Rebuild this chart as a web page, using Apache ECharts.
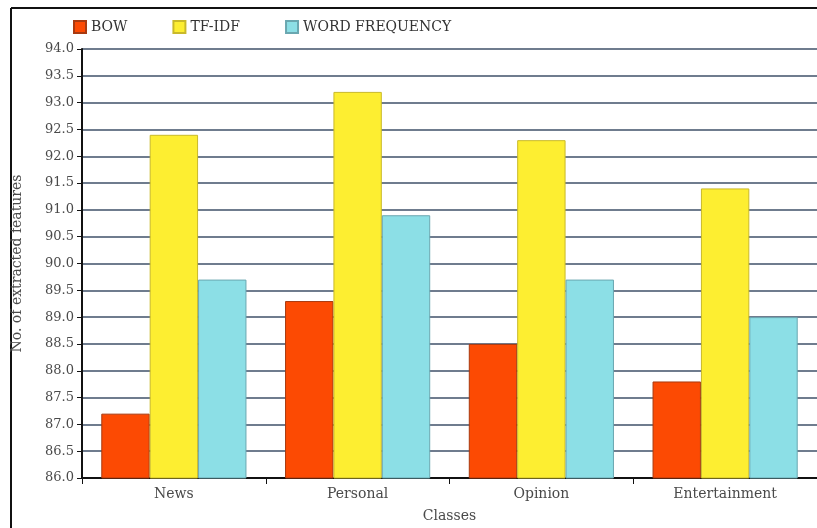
<!DOCTYPE html>
<html>
<head>
<meta charset="utf-8">
<script src="https://cdn.jsdelivr.net/npm/echarts@6/dist/echarts.min.js"></script>
<style>
  html, body { margin: 0; padding: 0; background: #ffffff; }
  #chart { width: 817px; height: 528px; }
</style>
</head>
<body>
<div id="chart"></div>
<script>
const classes = ["News", "Personal", "Opinion", "Entertainment"];
const bow = [87.2, 89.3, 88.5, 87.8];
const tfidf = [92.4, 93.2, 92.3, 91.4];
const wordFrequency = [89.7, 90.9, 89.7, 89.0];

const fontFamily = "DejaVu Serif";
const labelColor = "#4a4a4a";
const gridColor = "#3f5068";

const chart = echarts.init(document.getElementById("chart"), null, { renderer: "canvas" });

function barSeries(name, data, color, border) {
  return {
    name,
    type: "bar",
    data,
    barGap: "0%",
    barCategoryGap: "21%",
    itemStyle: { color, borderColor: border, borderWidth: 1 },
    emphasis: { disabled: true },
  };
}

chart.setOption({
  animation: false,
  backgroundColor: "#ffffff",
  textStyle: { fontFamily, color: labelColor },
  legend: {
    left: 68,
    top: 15,
    icon: "rect",
    itemWidth: 12,
    itemHeight: 12,
    itemGap: 45,
    textStyle: { fontFamily, fontSize: 14, color: "#333333" },
  },
  grid: { left: 82, top: 49, width: 736, height: 432, containLabel: false },
  xAxis: {
    type: "category",
    data: classes,
    name: "Classes",
    nameLocation: "middle",
    nameGap: 31,
    nameTextStyle: { fontFamily, fontSize: 14, color: labelColor },
    axisLine: { lineStyle: { color: "#111111", width: 2 } },
    axisTick: { show: true, alignWithLabel: false, length: 6, lineStyle: { color: "#111111", width: 1 } },
    axisLabel: { fontFamily, fontSize: 14, color: labelColor, margin: 9 },
    splitLine: { show: false },
  },
  yAxis: {
    type: "value",
    min: 86,
    max: 94,
    interval: 0.5,
    name: "No. of extracted features",
    nameLocation: "middle",
    nameGap: 58,
    nameTextStyle: { fontFamily, fontSize: 14, color: labelColor },
    axisLine: { show: true, lineStyle: { color: "#111111", width: 2 } },
    axisTick: { show: true, length: 5, lineStyle: { color: "#111111", width: 1 } },
    axisLabel: { fontFamily, fontSize: 13, color: labelColor, margin: 8, formatter: (v) => v.toFixed(1) },
    splitLine: { lineStyle: { color: gridColor, width: 1.5 } },
  },
  graphic: [
    { type: "line", shape: { x1: 11, y1: 8, x2: 11, y2: 528 }, style: { stroke: "#111111", lineWidth: 2 } },
    { type: "line", shape: { x1: 11, y1: 8, x2: 817, y2: 8 }, style: { stroke: "#111111", lineWidth: 2 } },
  ],
  series: [
    barSeries("BOW", bow, "#fc4a03", "#a83a10"),
    barSeries("TF-IDF", tfidf, "#fdee31", "#c9b92a"),
    barSeries("WORD FREQUENCY", wordFrequency, "#8cdfe6", "#6aa7b0"),
  ],
});
</script>
</body>
</html>
